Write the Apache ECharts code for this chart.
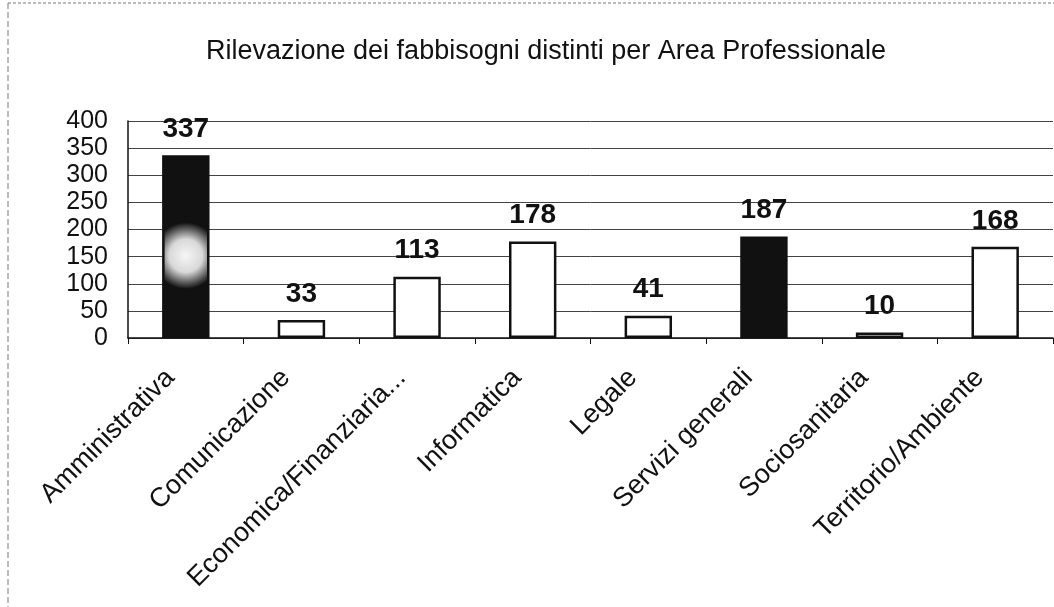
<!DOCTYPE html>
<html>
<head>
<meta charset="utf-8">
<title>Rilevazione dei fabbisogni</title>
<script src="https://cdn.jsdelivr.net/npm/echarts@6/dist/echarts.min.js"></script>
<style>
  html, body { margin: 0; padding: 0; background: #fff; }
  #chart { width: 1054px; height: 607px; }
</style>
</head>
<body>
<div id="chart"></div>
<script>
// dati
var categories = ['Amministrativa', 'Comunicazione', 'Economica/Finanziaria...', 'Informatica',
  'Legale', 'Servizi generali', 'Sociosanitaria', 'Territorio/Ambiente'];
var values = [337, 33, 113, 178, 41, 187, 10, 168];
var yTicks = [0, 50, 100, 150, 200, 250, 300, 350, 400];

var font = "'Liberation Sans', Arial, sans-serif";
// barre piene (nere) nel grafico originale
var dark = [0, 5];

var chart = echarts.init(document.getElementById('chart'));

function barColor(params) {
  if (params.dataIndex === 0) {
    // macchia chiara della scansione sulla prima barra
    return new echarts.graphic.RadialGradient(0.5, 0.55, 0.7, [
      { offset: 0, color: '#f6f6f6' },
      { offset: 0.5, color: '#d8d8d8' },
      { offset: 1, color: '#111' }
    ]);
  }
  return dark.indexOf(params.dataIndex) > -1 ? '#111' : '#fff';
}

chart.setOption({
  backgroundColor: '#fff',
  animation: false,
  title: {
    text: 'Rilevazione dei fabbisogni distinti per Area Professionale',
    left: 201,
    top: 33,
    textStyle: { fontFamily: font, fontSize: 27, fontWeight: 'normal', color: '#111' }
  },
  graphic: [
    { type: 'line', shape: { x1: 8, y1: 3, x2: 1054, y2: 3 },
      style: { stroke: '#777', lineWidth: 1, lineDash: [3, 2] } },
    { type: 'line', shape: { x1: 8, y1: 3, x2: 8, y2: 607 },
      style: { stroke: '#777', lineWidth: 1, lineDash: [6, 3] } }
  ],
  grid: { left: 128, right: 1, top: 121, bottom: 269 },
  xAxis: {
    type: 'category',
    data: categories,
    boundaryGap: true,
    axisLine: { lineStyle: { color: '#111', width: 1.5 } },
    axisTick: { show: true, length: 6, lineStyle: { color: '#111' } },
    axisLabel: {
      interval: 0,
      rotate: 45,
      margin: 20,
      padding: [0, 22, 0, 0],
      fontFamily: font,
      fontSize: 27,
      color: '#111'
    }
  },
  yAxis: {
    type: 'value',
    min: yTicks[0],
    max: yTicks[yTicks.length - 1],
    interval: 50,
    axisLine: { show: true, lineStyle: { color: '#111', width: 1.5 } },
    axisTick: { show: false },
    axisLabel: { margin: 20, fontFamily: font, fontSize: 25, color: '#111' },
    splitLine: { lineStyle: { color: '#444', width: 1 } }
  },
  series: [{
    type: 'bar',
    data: values,
    barWidth: '41%',
    itemStyle: { color: barColor, borderColor: '#111', borderWidth: 2.5 },
    label: {
      show: true,
      position: 'top',
      distance: 12,
      fontFamily: font,
      fontSize: 28,
      fontWeight: 'bold',
      color: '#111'
    }
  }]
});
</script>
</body>
</html>
